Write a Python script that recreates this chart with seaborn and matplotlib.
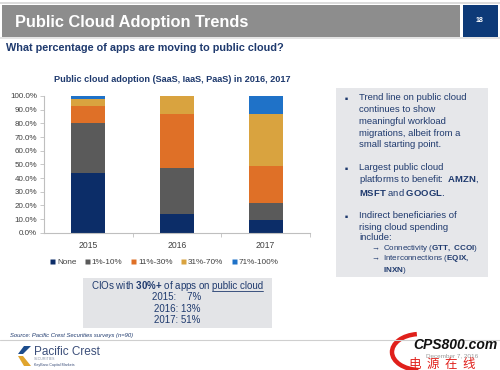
import numpy as np
import pandas as pd
import matplotlib
matplotlib.use("Agg")
import matplotlib.pyplot as plt
import seaborn as sns
from matplotlib.patches import Rectangle, Polygon, Arc
from matplotlib.lines import Line2D

# ---------------- data ----------------
years = ["2015", "2016", "2017"]
series_names = ["None", "1%-10%", "11%-30%", "31%-70%", "71%-100%"]
none_vals = [43.5, 13.5, 9.0]
p1_10 = [36.5, 34.0, 13.0]
p11_30 = [13.0, 39.0, 27.0]
p31_70 = [5.0, 13.5, 38.0]
p71_100 = [2.0, 0.0, 13.0]
y_ticks = [0, 10, 20, 30, 40, 50, 60, 70, 80, 90, 100]
cio_years = ["2015", "2016", "2017"]
cio_share = ["7%", "13%", "51%"]

colors = ["#0c2d68", "#5a5a5a", "#df7027", "#d9a33f", "#1f72c8"]

sns.set_theme(style="white")
plt.rcParams["font.family"] = ["Liberation Sans", "DejaVu Sans"]
plt.rcParams["mathtext.fontset"] = "custom"
plt.rcParams["mathtext.rm"] = "Liberation Sans"
plt.rcParams["mathtext.bf"] = "Liberation Sans:bold"

fig = plt.figure(figsize=(5, 3.7), dpi=100)
fig.patch.set_facecolor("white")

# background axes in pixel coordinates
bg = fig.add_axes([0, 0, 1, 1], zorder=0)
bg.set_xlim(0, 500)
bg.set_ylim(370, 0)
bg.axis("off")

NAVY = "#1f3a6e"

# header
bg.add_patch(Rectangle((0, 2), 500, 1.5, color="#dcdcdc", lw=0))
bg.add_patch(Rectangle((2, 5), 458, 32, color="#8d8d8d", lw=0))
bg.add_patch(Rectangle((463, 5), 35, 32, color="#0d3a78", lw=0))
bg.add_patch(Rectangle((0, 37), 500, 2, color="#e4e4e4", lw=0))
bg.text(15, 22, "Public Cloud Adoption Trends", color="white", fontsize=11.8,
        fontweight="bold", va="center", ha="left")
bg.text(480, 21, "18", color="white", fontsize=5, fontweight="bold", va="center", ha="center")
bg.text(6, 48, "What percentage of apps are moving to public cloud?", color=NAVY,
        fontsize=7.8, fontweight="bold", va="center", ha="left")

# chart title
bg.text(172, 79, "Public cloud adoption (SaaS, IaaS, PaaS) in 2016, 2017", color=NAVY,
        fontsize=6.6, fontweight="bold", va="center", ha="center")

# ---------------- stacked bar chart ----------------
df = pd.DataFrame({"year": years, "None": none_vals, "1%-10%": p1_10,
                   "11%-30%": p11_30, "31%-70%": p31_70, "71%-100%": p71_100})
cum = df[series_names].cumsum(axis=1)
cum["year"] = df["year"]

ax = fig.add_axes([44 / 500, (370 - 232.7) / 370, 266 / 500, 136.7 / 370], zorder=2)
ax.set_facecolor("none")
for name, col in reversed(list(zip(series_names, colors))):
    sns.barplot(data=cum, x="year", y=name, order=years, color=col, saturation=1,
                width=0.385, ax=ax, edgecolor="none", linewidth=0)
ax.set_xlim(-0.5, 2.5)
ax.set_ylim(0, 100)
ax.set_yticks(y_ticks)
ax.set_yticklabels([f"{v:.1f}%" for v in y_ticks])
ax.set_xlabel("")
ax.set_ylabel("")
for s in ["top", "right"]:
    ax.spines[s].set_visible(False)
for s in ["left", "bottom"]:
    ax.spines[s].set_color("#bfbfbf")
    ax.spines[s].set_linewidth(0.8)
ax.tick_params(axis="y", length=3, width=0.6, color="#bfbfbf", labelsize=5.8,
               labelcolor="#404040", pad=2, left=True, direction="out")
ax.tick_params(axis="x", length=0, labelsize=6.2, labelcolor="#404040", pad=6)
ax.set_xticks([0.5, 1.5, 2.5], minor=True)
ax.tick_params(axis="x", which="minor", length=3, width=0.6, color="#bfbfbf",
               bottom=True, direction="out")

handles = [Line2D([0], [0], marker="s", color="none", markerfacecolor=c,
                  markeredgecolor="none", markersize=3.6) for c in colors]
leg = fig.legend(handles, series_names, loc="center", bbox_to_anchor=(164 / 500, (370 - 262) / 370),
                 ncol=5, frameon=False, fontsize=5.9, handlelength=0.6, handletextpad=0.35,
                 columnspacing=0.95, labelcolor="#404040")

renderer = fig.canvas.get_renderer()

# ---------------- CIO box ----------------
bg.add_patch(Rectangle((83, 278), 189, 50, color="#e3e4e7", lw=0))
FC = 7.0
t_left = bg.text(0, 286, r"CIOs with $\mathbf{30\%}\mathbf{+}$ of apps on", fontsize=FC,
                 color=NAVY, va="center", ha="left")
t_right = bg.text(0, 286, "public cloud", fontsize=FC, color=NAVY, va="center", ha="left")
w1 = t_left.get_window_extent(renderer).width
w2 = t_right.get_window_extent(renderer).width
space = 1.2
x0 = 177 - (w1 + space + w2) / 2
t_left.set_x(x0)
t_right.set_x(x0 + w1 + space)
bg.plot([x0 + w1 + space + 0.5, x0 + w1 + space + w2], [291.3, 291.3], color=NAVY, lw=0.6)
for i, (yy, sh) in enumerate(zip(cio_years, cio_share)):
    lab = f"{yy}:    {sh}" if len(sh) == 2 else f"{yy}: {sh}"
    bg.text(177, 297.5 + i * 11.3, lab, fontsize=FC, color=NAVY, va="center", ha="center")

# ---------------- right text box ----------------
bg.add_patch(Rectangle((336, 88), 152, 189, color="#e6e7ea", lw=0))
FS = 6.8
bullet_x, text_x = 345, 359
b1 = ["Trend line on public cloud", "continues to show", "meaningful workload",
      "migrations, albeit from a", "small starting point."]
for i, line in enumerate(b1):
    bg.text(text_x, 98 + i * 11.7, line, fontsize=FS, color=NAVY, va="center")
for by in (98, 168, 216):
    bg.text(bullet_x, by, "\u25a0", fontsize=3.6, color=NAVY, va="center")

bg.text(text_x, 168, "Largest public cloud", fontsize=FS, color=NAVY, va="center")
bg.text(text_x, 180, r"platforms to benefit:  $\mathbf{AMZN}$,", fontsize=FS, color=NAVY, va="center")
bg.text(text_x, 192, r"$\mathbf{MSFT}$ and $\mathbf{GOOGL}$.", fontsize=FS, color=NAVY, va="center")

for i, line in enumerate(["Indirect beneficiaries of", "rising cloud spending", "include:"]):
    bg.text(text_x, 216 + i * 11, line, fontsize=FS, color=NAVY, va="center")
FS2 = 5.8
bg.text(371, 249, "\u2192", fontsize=FS2, color=NAVY, va="center")
bg.text(383, 249, r"Connectivity ($\mathbf{GTT,\ CCOI}$)", fontsize=FS2, color=NAVY, va="center")
bg.text(371, 259, "\u2192", fontsize=FS2, color=NAVY, va="center")
bg.text(383, 259, r"Interconnections ($\mathbf{EQIX,}$", fontsize=FS2, color=NAVY, va="center")
bg.text(383, 270, r"$\mathbf{INXN}$)", fontsize=FS2, color=NAVY, va="center")

# ---------------- footer ----------------
bg.plot([0, 500], [339.5, 339.5], color="#cfcfcf", lw=0.8)
bg.text(10, 335.5, "Source: Pacific Crest Securities surveys (n=90)", fontsize=4.2,
        style="italic", color=NAVY, va="center")
# logo chevrons
bg.add_patch(Polygon([[24, 346], [31, 346], [23, 354], [18, 354]], closed=True, color="#1c4c8c", lw=0))
bg.add_patch(Polygon([[18, 356], [23, 356], [31, 366], [24, 366]], closed=True, color="#e0a52e", lw=0))
bg.text(34, 352, "Pacific Crest", fontsize=8.5, color="#3c4f7a", va="center")
bg.text(34, 359.5, "SECURITIES", fontsize=2.6, color="#8a94a8", va="center")
bg.text(34, 365, "KeyBanc Capital Markets", fontsize=2.6, color="#3c4f7a", va="center")

# watermark
bg.text(452, 356, "December 7, 2016", fontsize=4.6, color="#9a9a9a", va="center", ha="center")
bg.add_patch(Arc((420, 352), 56, 36, theta1=95, theta2=260, color="#e0201b", lw=3.2))
bg.text(455, 345, "CPS800.com", fontsize=10, fontweight="bold", style="italic",
        color="#111111", va="center", ha="center")
bg.text(442, 364.5, "电  源  在  线", fontsize=9, color="#e0201b", va="center", ha="center",
        family=["Noto Sans CJK SC", "DejaVu Sans"])

fig.savefig("out.png", dpi=100)
